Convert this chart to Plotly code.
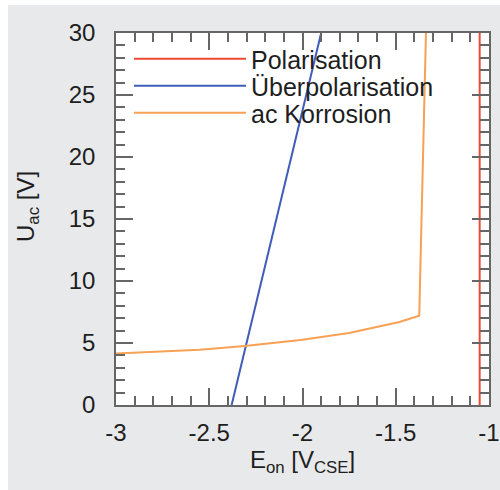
import plotly.graph_objects as go

# Data
pol_x = [-1.05, -1.05]
pol_y = [0, 30]

ueber_x = [-2.38, -2.30, -2.22, -2.14, -2.06, -1.98, -1.90]
ueber_y = [0, 5, 10, 15, 20, 25, 30]

ac_x = [-3.0, -2.75, -2.55, -2.31, -2.01, -1.75, -1.48, -1.374, -1.338]
ac_y = [4.15, 4.3, 4.45, 4.76, 5.24, 5.8, 6.7, 7.2, 30]

x_tick_vals = [-3, -2.5, -2, -1.5, -1]
x_tick_text = ["-3", "-2.5", "-2", "-1.5", "-1"]
y_tick_vals = [0, 5, 10, 15, 20, 25, 30]
y_tick_text = ["0", "5", "10", "15", "20", "25", "30"]

FONT = "Liberation Sans, Arial, sans-serif"
AX = "#666666"
TXT = "#1e1e1e"

fig = go.Figure()
fig.add_trace(go.Scatter(x=pol_x, y=pol_y, mode="lines", name="Polarisation",
                         line=dict(color="#ee4a35", width=2), legend="legend"))
fig.add_trace(go.Scatter(x=ueber_x, y=ueber_y, mode="lines", name="Überpolarisation",
                         line=dict(color="#3f5cb8", width=2), legend="legend2"))
fig.add_trace(go.Scatter(x=ac_x, y=ac_y, mode="lines", name="ac Korrosion",
                         line=dict(color="#f7a155", width=2), legend="legend3"))

# figure fills the whole window (body margin removed below)
W, H = 500, 490
L, T, R, B = 116, 33, 500 - 489, 490 - 405
pw, ph = W - L - R, H - T - B

def px2x(p):  # window pixel -> paper x
    return (p - L) / pw

def py2y(p):  # window pixel -> paper y
    return 1 + (T - p) / ph

# white strips left / top like the reference's framed panel
shapes = [
    dict(type="rect", xref="paper", yref="paper", x0=px2x(-5), x1=px2x(8),
         y0=py2y(H + 5), y1=py2y(-5), fillcolor="white", line=dict(width=0), layer="below"),
    dict(type="rect", xref="paper", yref="paper", x0=px2x(-5), x1=px2x(W + 5),
         y0=py2y(5), y1=py2y(-5), fillcolor="white", line=dict(width=0), layer="below"),
]

axis_common = dict(
    showgrid=False, zeroline=False, showline=True, linecolor=AX, linewidth=1.5,
    mirror="ticks", ticks="inside", ticklen=17, tickwidth=1.5, tickcolor=AX,
    tickfont=dict(family=FONT, size=24, color=TXT), automargin=False,
    ticklabeloverflow="allow",
)

fig.update_xaxes(range=[-3, -1], tickvals=x_tick_vals, ticktext=x_tick_text,
                 minor=dict(dtick=0.1, tick0=-3, ticklen=9, tickwidth=1.5, tickcolor=AX, ticks="inside"),
                 ticklabelstandoff=5,
                 title=dict(text="E<sub>on</sub> [V<sub>CSE</sub>]", font=dict(family=FONT, size=24, color=TXT), standoff=6),
                 **axis_common)
fig.update_yaxes(range=[0, 30], tickvals=y_tick_vals, ticktext=y_tick_text,
                 minor=dict(dtick=1, ticklen=9, tickwidth=1.5, tickcolor=AX, ticks="inside"),
                 ticklabelstandoff=14,
                 **axis_common)

leg_common = dict(xanchor="left", yanchor="middle", bgcolor="rgba(0,0,0,0)",
                  itemwidth=112, font=dict(family=FONT, size=25, color=TXT))

fig.update_layout(
    width=W, height=H,
    margin=dict(l=L, r=R, t=T, b=B),
    paper_bgcolor="#e8e9eb", plot_bgcolor="white",
    shapes=shapes,
    showlegend=True,
    legend=dict(x=px2x(129), y=py2y(59), **leg_common),
    legend2=dict(x=px2x(129), y=py2y(86), **leg_common),
    legend3=dict(x=px2x(129), y=py2y(113), **leg_common),
    annotations=[dict(text="U<sub>ac</sub> [V]", textangle=-90, showarrow=False,
                      xref="paper", yref="paper", x=px2x(27), y=py2y(207),
                      xanchor="center", yanchor="middle",
                      font=dict(family=FONT, size=24, color=TXT))],
)

fig.write_html("out.html", config={"displayModeBar": False},
               post_script="document.body.style.margin='0';document.documentElement.style.overflow='hidden';")
